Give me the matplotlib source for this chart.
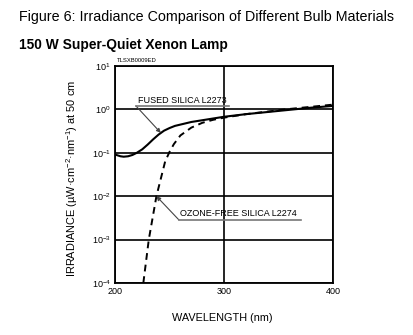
import numpy as np
import matplotlib
matplotlib.use("Agg")
import matplotlib.pyplot as plt
from matplotlib.ticker import FixedLocator, NullLocator

plt.rcParams['font.family'] = ['Liberation Sans', 'DejaVu Sans']
plt.rcParams['mathtext.fontset'] = 'custom'
plt.rcParams['mathtext.rm'] = 'Liberation Sans'
plt.rcParams['mathtext.it'] = 'Liberation Sans:italic'

# fused silica L2273 (log10 of irradiance)
fused_wl = [200, 205, 208, 212, 216, 220, 225, 230, 235, 240, 245, 250, 255,
            260, 270, 280, 290, 300, 320, 340, 360, 380, 400]
fused_log = [-1.04, -1.08, -1.09, -1.08, -1.05, -1.00, -0.92, -0.81, -0.69,
             -0.58, -0.49, -0.43, -0.38, -0.35, -0.29, -0.25, -0.21, -0.17,
             -0.11, -0.06, -0.01, 0.04, 0.08]

# ozone-free silica L2274
ozone_wl = [226, 228, 231, 234.5, 238, 242, 246, 250, 254, 260, 270, 280, 290,
            300, 320, 340, 360, 380, 400]
ozone_log = [-4.0, -3.6, -3.0, -2.5, -2.0, -1.6, -1.2, -0.98, -0.8, -0.60,
             -0.42, -0.31, -0.24, -0.19, -0.11, -0.05, 0.01, 0.06, 0.11]

x_ticks = [200, 300, 400]
y_exp = [-4, -3, -2, -1, 0, 1]

W, H = 414, 335


def fxy(px, py):
    return (px / W, 1 - py / H)


fig = plt.figure(figsize=(W / 100, H / 100), dpi=100)
ax = fig.add_axes([115 / W, 1 - 283 / H, 218 / W, 217 / H])

ax.plot(fused_wl, 10 ** np.array(fused_log), color="black", lw=1.5)
ax.plot(ozone_wl, 10 ** np.array(ozone_log), color="black", lw=1.4,
        ls=(0, (3.5, 2.5)))

ax.set_yscale("log")
ax.set_xlim(200, 400)
ax.set_ylim(1e-4, 10)
ax.xaxis.set_major_locator(FixedLocator(x_ticks))
ax.yaxis.set_major_locator(FixedLocator([10.0 ** e for e in y_exp]))
ax.yaxis.set_minor_locator(NullLocator())
ax.set_xticklabels([str(t) for t in x_ticks])
ax.set_yticklabels([r"10$^{\mathregular{%d}}$" % e for e in y_exp])
ax.tick_params(length=0, labelsize=6.5, pad=3)
ax.grid(True, color="black", lw=1.2)
for s in ax.spines.values():
    s.set_linewidth(1.3)

# titles
fig.text(*fxy(19, 17), "Figure 6: Irradiance Comparison of Different Bulb Materials",
         fontsize=10.25, va="center", ha="left")
fig.text(*fxy(19, 45), "150 W Super-Quiet Xenon Lamp", fontsize=9.9,
         fontweight="bold", va="center", ha="left")
fig.text(*fxy(117, 61), "TLSXB0009ED", fontsize=4.2, va="center", ha="left")

fig.text(*fxy(222, 318), "WAVELENGTH (nm)", fontsize=7.8, va="center", ha="center")
fig.text(*fxy(72, 178),
         r"IRRADIANCE (µW·cm$^{\mathregular{-2}}$·nm$^{\mathregular{-1}}$) at 50 cm",
         fontsize=7.9, rotation=90, va="center", ha="center")

# annotations
fig.text(*fxy(138, 100.5), "FUSED SILICA L2273", fontsize=6.5, va="center", ha="left")
fig.add_artist(plt.Line2D([136 / W, 229 / W], [1 - 106 / H, 1 - 106 / H],
                          color="#777777", lw=1.2))
ax.annotate("", xy=(242, 10 ** -0.54), xycoords="data",
            xytext=fxy(136, 106), textcoords="figure fraction",
            arrowprops=dict(arrowstyle="-|>", color="#444444", lw=0.8,
                            mutation_scale=6, shrinkA=0, shrinkB=0))

fig.text(*fxy(180, 213.5), "OZONE-FREE SILICA L2274", fontsize=6.5, va="center", ha="left")
fig.add_artist(plt.Line2D([179 / W, 301 / W], [1 - 220 / H, 1 - 220 / H],
                          color="#777777", lw=1.2))
ax.annotate("", xy=(238, 1e-2), xycoords="data",
            xytext=fxy(179, 220), textcoords="figure fraction",
            arrowprops=dict(arrowstyle="-|>", color="#444444", lw=0.8,
                            mutation_scale=6, shrinkA=0, shrinkB=0))

fig.savefig("out.png", dpi=100)
